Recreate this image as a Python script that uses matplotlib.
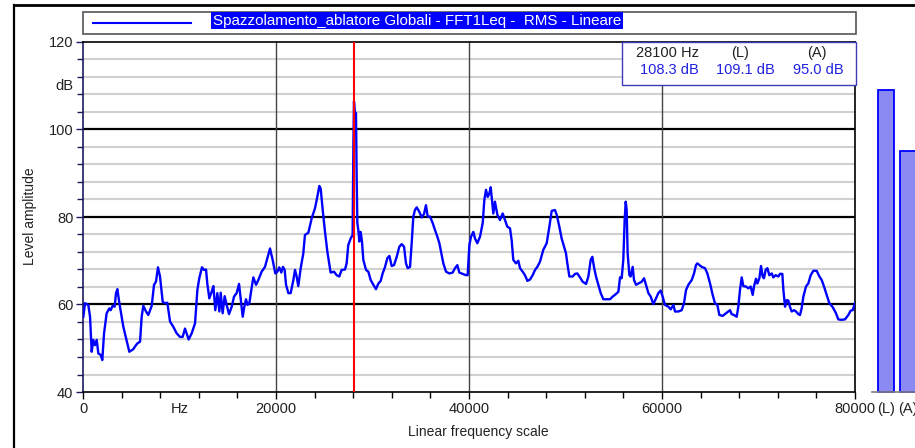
import numpy as np
import matplotlib
matplotlib.use('Agg')
import matplotlib.pyplot as plt
from matplotlib.patches import Rectangle
from matplotlib.lines import Line2D

plt.rcParams['font.family'] = ['Liberation Sans', 'DejaVu Sans']

# spectrum (Hz, dB)
freq = [35, 210, 550, 730, 900, 1070, 1240, 1420, 1590, 1830, 2000, 2180, 2450, 2730, 2870,
        3070, 3280, 3420, 3560, 3770, 4180, 4800, 5220, 5390, 5630, 5910, 6080, 6250, 6530,
        6770, 7120, 7360, 7560, 7770, 7980, 8260, 8500, 8740, 9020, 9360, 9710, 10050, 10330,
        10570, 10740, 10950, 11260, 11610, 11850, 12050, 12330, 12540, 12750, 12880, 13090,
        13330, 13510, 13710, 13920, 14130, 14270, 14470, 14680, 14890, 15130, 15410, 15650,
        15920, 16170, 16340, 16550, 16720, 16890, 17060, 17240, 17440, 17650, 17930, 18170,
        18510, 18860, 19100, 19380, 19650, 19930, 20140, 20340, 20550, 20720, 20900, 21040,
        21280, 21520, 21800, 21970, 22140, 22310, 22560, 22830, 23000, 23350, 23700, 24040,
        24280, 24490, 24630, 24840, 25080, 25320, 25660, 26010, 26290, 26560, 26800, 27150,
        27320, 27490, 27740, 27940, 28020, 28080, 28150, 28220, 28290, 28360, 28430, 28530,
        28640, 28770, 28910, 29050, 29330, 29570, 29810, 30090, 30360, 30610, 30850, 31050,
        31300, 31540, 31750, 31990, 32230, 32510, 32780, 33020, 33270, 33470, 33650, 33890,
        34060, 34230, 34400, 34580, 34850, 35100, 35340, 35540, 35720, 35960, 36240, 36480,
        36720, 36930, 37130, 37340, 37620, 37960, 38310, 38550, 38790, 39000, 39340, 39690,
        39860, 40040, 40210, 40450, 40620, 40860, 41140, 41420, 41590, 41760, 41940, 42110,
        42250, 42420, 42520, 42690, 42940, 43210, 43490, 43730, 43970, 44250, 44420, 44590,
        44870, 45110, 45290, 45560, 45800, 46050, 46320, 46600, 46840, 47080, 47360, 47700,
        48050, 48330, 48570, 48910, 49090, 49360, 49600, 49850, 50050, 50190, 50400, 50740,
        50990, 51230, 51500, 51780, 52130, 52370, 52610, 52780, 52950, 53160, 53400, 53650,
        53920, 54270, 54610, 54890, 55230, 55480, 55650, 55820, 55990, 56130, 56240, 56340,
        56440, 56620, 56750, 56960, 57100, 57310, 57550, 57890, 58140, 58340, 58590, 58830,
        59100, 59380, 59620, 59860, 60070, 60310, 60660, 60900, 61180, 61350, 61690, 62040,
        62280, 62490, 62730, 63080, 63320, 63520, 63660, 64110, 64460, 64700, 64980, 65250,
        65490, 65740, 65940, 66290, 66630, 66880, 67050, 67220, 67460, 67740, 67910, 68080,
        68260, 68430, 68710, 68950, 69190, 69400, 69530, 69740, 69880, 70090, 70260, 70430,
        70570, 70740, 70920, 71120, 71370, 71540, 71780, 72060, 72230, 72470, 72580, 72750,
        72920, 73090, 73270, 73440, 73680, 73890, 74130, 74300, 74470, 74650, 74920, 75160,
        75410, 75680, 76030, 76310, 76550, 76790, 77060, 77340, 77690, 78030, 78270, 78620,
        78960, 79310, 79550, 79760, 80000]
level = [57.2, 60.3, 59.9, 57.2, 49.2, 51.9, 50.7, 51.9, 48.8, 48.5, 47.3, 53.4, 58.0, 59.1, 58.7,
         59.7, 59.5, 62.6, 63.5, 60.3, 54.9, 49.2, 49.8, 50.4, 51.1, 51.5, 57.2, 59.7, 58.4,
         57.6, 59.7, 64.5, 65.2, 68.5, 66.4, 60.6, 60.3, 60.4, 56.1, 54.9, 53.4, 52.6, 52.6,
         54.5, 53.4, 52.0, 53.4, 55.7, 63.3, 66.0, 68.5, 67.9, 68.0, 64.8, 61.4,
         62.9, 64.2, 58.7, 62.6, 58.4, 62.7, 58.0, 61.9, 59.9, 57.8, 59.5, 61.8,
         62.6, 64.7, 61.4, 57.2, 59.5, 61.2, 59.9, 60.3, 63.3, 66.2, 64.5, 65.6,
         67.5, 68.6, 70.5, 72.8, 70.2, 67.1, 67.5, 68.5, 67.3, 68.6, 67.9, 64.5,
         62.6, 62.6, 65.6, 67.9, 66.4, 64.2, 68.3, 71.7, 75.9, 76.4, 79.7, 82.0,
         84.6, 87.1, 86.5, 81.6, 76.6, 72.1, 67.3, 67.5, 66.7, 66.4, 67.9, 68.0,
         69.4, 73.6, 75.1, 75.9, 96.8, 106.4, 104.5, 103.7, 103.7, 88.8, 78.6, 77.0,
         74.4, 76.6, 74.4, 70.2, 67.9, 67.5, 65.6, 64.5, 63.5, 64.8, 65.4, 67.1,
         68.6, 70.6, 71.1, 68.8, 69.0, 70.9, 73.2, 73.8, 73.2, 69.4, 68.3, 68.6,
         74.0, 80.1, 81.6, 82.2, 81.2, 79.9, 80.7, 82.7, 80.1, 80.1, 78.6, 77.0,
         75.5, 74.0, 71.7, 69.4, 67.5, 67.1, 67.3, 68.3, 69.0, 67.3, 67.0, 66.7,
         66.7, 73.6, 75.5, 76.6, 75.1, 74.0, 75.5, 78.6, 83.9, 86.2, 84.6, 85.4,
         86.8, 83.1, 80.8, 83.5, 80.5, 79.3, 80.8, 79.3, 77.8, 77.4, 74.7, 70.2,
         69.4, 70.0, 68.3, 67.5, 66.7, 65.4, 65.7, 66.7, 67.9, 68.6, 69.8, 72.5,
         74.0, 77.8, 81.4, 81.6, 80.5, 77.8, 75.1, 73.2, 71.7, 69.4, 66.4, 66.4,
         67.0, 67.1, 66.2, 65.2, 64.7, 66.4, 70.2, 70.9, 68.6, 66.4, 64.5, 62.6,
         61.2, 61.2, 61.2, 61.8, 62.4, 62.9, 66.2, 66.0, 70.2, 79.3, 83.5, 81.6,
         71.7, 66.7, 66.4, 68.6, 65.6, 64.5, 64.8, 65.2, 66.0, 64.5, 62.6, 61.8,
         60.1, 61.4, 62.6, 63.2, 61.8, 59.9, 59.5, 58.9, 59.9, 58.4, 58.4, 58.7,
         60.3, 63.3, 64.5, 65.6, 67.1, 69.0, 69.4, 68.6, 68.3, 67.1, 64.8, 62.2,
         60.3, 59.9, 57.6, 57.4, 58.0, 58.4, 58.7, 57.8, 57.6, 57.2, 59.5, 63.3,
         66.2, 64.2, 64.1, 63.7, 64.1, 62.2, 64.1, 65.9, 64.8, 66.0, 68.8, 66.4,
         66.0, 67.9, 68.3, 66.7, 67.1, 66.2, 66.7, 66.4, 67.0, 67.0, 63.3, 59.5,
         61.0, 60.9, 59.4, 58.4, 58.7, 58.4, 57.8, 57.6, 59.1, 61.8, 64.1, 64.8,
         66.7, 67.7, 67.7, 66.4, 65.6, 64.1, 62.2, 60.3, 59.4, 58.0, 56.6, 56.5,
         56.6, 57.6, 58.6, 58.7, 60.3]

cursor_hz = 28100
cursor_vals = ['108.3 dB', '109.1 dB', '95.0 dB']
bar_names = ['(L)', '(A)']
bar_vals = [109.1, 95.0]
legend_label = 'Spazzolamento_ablatore Globali - FFT1Leq -  RMS - Lineare'

W, H = 915, 448
def fx(x): return x / W
def fy(y): return 1 - y / H

fig = plt.figure(figsize=(9.15, 4.48), dpi=100)
ax = fig.add_axes([fx(83), fy(392), fx(855) - fx(83), fy(42) - fy(392)])

ax.set_xlim(0, 80000)
ax.set_ylim(40, 120)

# grid
for v in np.arange(44, 120, 4):
    if v % 20:
        ax.axhline(v, color='#d0d0d0', lw=1.5, zorder=1)
for v in [60, 80, 100]:
    ax.axhline(v, color='black', lw=1.6, zorder=2)
for v in [20000, 40000, 60000]:
    ax.axvline(v, color='#444444', lw=1.0, zorder=2)

ax.plot(freq, level, color='#0000ff', lw=1.7, zorder=3)
ax.axvline(cursor_hz, color='#ff0000', lw=1.5, zorder=4)

ax.set_xticks([0, 20000, 40000, 60000, 80000])
ax.set_xticklabels(['0', '20000', '40000', '60000', '80000'])
ax.set_xticks(np.arange(0, 80001, 4000), minor=True)
ax.set_yticks([40, 60, 80, 100, 120])
ax.set_yticks(np.arange(40, 121, 4), minor=True)
ax.tick_params(axis='both', which='major', length=5, width=1, labelsize=10.5,
               labelcolor='#222222', pad=2)
ax.tick_params(axis='both', which='minor', length=4, width=1)
ax.tick_params(axis='y', which='both', color='#1a1a60')
for s in ax.spines.values():
    s.set_linewidth(1.2)
ax.spines['left'].set_color('#1a1a60')

ax.text(10000, -0.028, 'Hz', transform=ax.get_xaxis_transform(), ha='center', va='top',
        fontsize=10.5, color='#222222')
ax.text(-0.012, 110, 'dB', transform=ax.get_yaxis_transform(), ha='right', va='center',
        fontsize=10.5, color='#222222')

fig.text(fx(478), fy(432), 'Linear frequency scale', ha='center', va='center', fontsize=10,
         color='#222222')
fig.text(fx(30), fy(216), 'Level amplitude', ha='center', va='center', rotation=90,
         fontsize=10, color='#222222')

# level bars on the right
ax2 = fig.add_axes([fx(872), fy(392), fx(916) - fx(872), fy(42) - fy(392)])
ax2.set_ylim(40, 120)
ax2.set_xlim(-0.636, 1.364)
ax2.bar(np.arange(len(bar_vals)), np.array(bar_vals) - 40, bottom=40, width=0.727,
        color='#8a8af2', edgecolor='#0000ff', lw=1.3, clip_on=False)
for s in ['top', 'right', 'left']:
    ax2.spines[s].set_visible(False)
ax2.spines['bottom'].set_color('#808080')
ax2.spines['bottom'].set_linewidth(1.2)
ax2.set_yticks([])
ax2.set_xticks(np.arange(len(bar_names)))
ax2.set_xticklabels(bar_names)
ax2.tick_params(axis='x', length=0, labelsize=10.5, labelcolor='#222222', pad=7)
ax2.patch.set_alpha(0)

# cursor readout box
fig.add_artist(Rectangle((fx(622), fy(85)), fx(856) - fx(622), fy(42) - fy(85),
                         transform=fig.transFigure, facecolor='white',
                         edgecolor='#3c3cb4', lw=1.0, zorder=5))
for xc, t in zip([668, 740, 817], ['%d Hz' % cursor_hz, '(L)', '(A)']):
    fig.text(fx(xc), fy(53), t, ha='center', va='center', fontsize=10.5, color='#222222', zorder=6)
for xc, t in zip([669, 745, 818], cursor_vals):
    fig.text(fx(xc), fy(70.5), t, ha='center', va='center', fontsize=10.5, color='#2020e0', zorder=6)

# legend strip
fig.add_artist(Rectangle((fx(83), fy(34)), fx(856) - fx(83), fy(12) - fy(34),
                         transform=fig.transFigure, facecolor='white',
                         edgecolor='#555555', lw=1.2, zorder=5))
fig.add_artist(Line2D([fx(93), fx(191)], [fy(22.7), fy(22.7)], transform=fig.transFigure,
                      color='#0000ff', lw=1.5, zorder=6))
fig.text(fx(213), fy(20.5), legend_label, ha='left', va='center', fontsize=10.9, color='white',
         zorder=6, bbox=dict(boxstyle='square,pad=0.12', facecolor='#0000ff', edgecolor='none'))

# outer frame
fig.add_artist(Line2D([fx(14), fx(915)], [fy(5.5), fy(5.5)], transform=fig.transFigure,
                      color='black', lw=2))
fig.add_artist(Line2D([fx(14), fx(14)], [fy(5.5), fy(448)], transform=fig.transFigure,
                      color='black', lw=1.6))

fig.savefig('out.png', dpi=100)
